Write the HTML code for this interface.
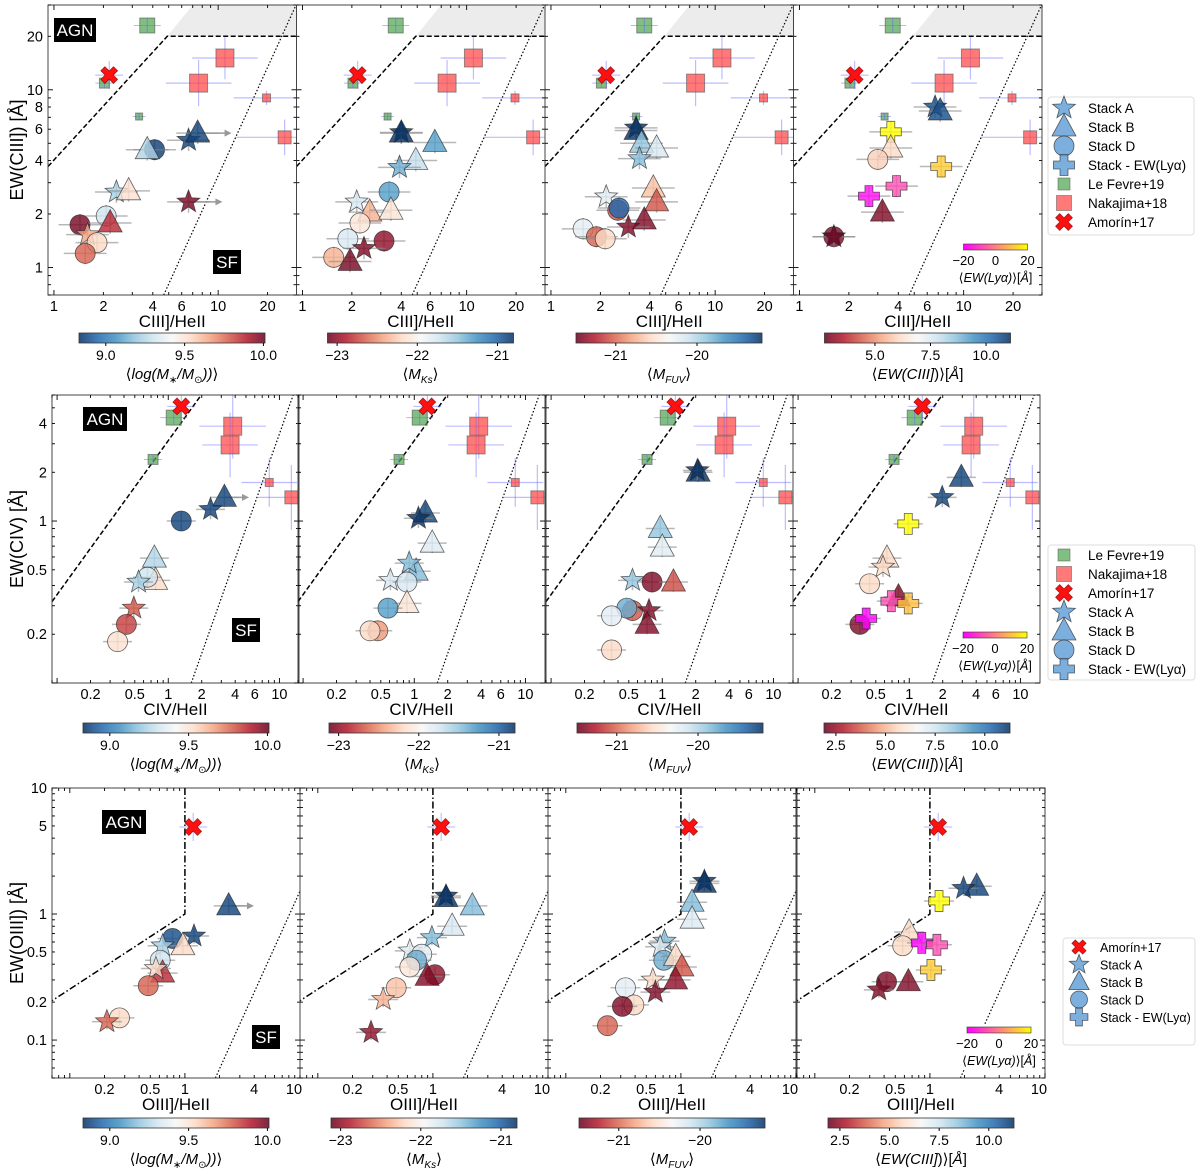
<!DOCTYPE html>
<html><head><meta charset="utf-8">
<style>
html,body{margin:0;padding:0;background:#fff;}
svg{display:block;font-family:"Liberation Sans","DejaVu Sans",sans-serif;}
</style></head>
<body>
<svg id="fig" width="1200" height="1171" viewBox="0 0 1200 1171" xmlns="http://www.w3.org/2000/svg"></svg>
<script>
// ---------- DATA ----------
const r1LfX=[3.7,2.03,3.3], r1LfY=[23,10.9,7.07], r1LfS=[7.5,5,3.5];
const r1NkX=[11.0,7.6,19.7,25.4], r1NkY=[15.1,10.9,9.0,5.4], r1NkS=[9,9,4,6.5];
const r1NkXe=[0.2,0.2,0.2,0.3], r1NkYe=[0.12,0.13,0.04,0.1];
const r1AmX=[2.17], r1AmY=[12.1];
const r2LfX=[1.12,0.73], r2LfY=[4.35,2.4], r2LfS=[7.5,5];
const r2NkX=[3.8,3.6,8.1,12.8], r2NkY=[3.85,2.95,1.73,1.40], r2NkS=[9,9,4,6.5];
const r2NkXe=[0.3,0.25,0.25,0.3], r2NkYe=[0.2,0.2,0.15,0.2];
const r2AmX=[1.31], r2AmY=[5.1];
const r3AmX=[1.18], r3AmY=[4.9];

const r1p1X=[4.1,3.7,6.6,7.5,2.4,2.85,6.6,2.08,1.44,2.2,1.6,1.83,1.55];
const r1p1Y=[4.6,4.6,5.2,5.7,2.66,2.7,2.34,1.95,1.74,1.78,1.53,1.38,1.2];
const r1p1S=['D','B','A','B','A','B','A','D','D','B','A','D','D'];
const r1p1C=[0.02,0.35,0.03,0.03,0.33,0.58,0.98,0.4,0.98,0.88,0.7,0.6,0.8];
const r1p1Ar=[3,6];
const r1p2X=[4.0,4.0,6.4,4.9,3.9,3.37,2.14,2.57,3.46,2.24,1.89,3.14,2.37,1.55,1.95];
const r1p2Y=[5.75,5.7,5.05,4.0,3.66,2.66,2.34,2.05,2.1,1.78,1.45,1.41,1.28,1.14,1.08];
const r1p2S=['A','B','B','B','A','D','A','B','B','D','D','D','A','D','B'];
const r1p2C=[0.0,0.0,0.22,0.38,0.25,0.22,0.42,0.68,0.57,0.56,0.42,0.95,0.97,0.68,0.98];
const r1p3X=[3.3,3.3,3.56,4.4,3.46,2.17,4.2,4.4,2.55,2.6,3.7,2.96,1.57,1.89,2.14];
const r1p3Y=[6.1,5.9,5.0,4.7,4.1,2.5,2.8,2.34,2.1,2.16,1.85,1.69,1.65,1.49,1.45];
const r1p3S=['A','B','B','B','A','A','B','B','D','D','B','A','D','D','D'];
const r1p3C=[0.0,0.0,0.3,0.42,0.28,0.44,0.65,0.82,0.82,0.1,0.97,0.97,0.45,0.8,0.6];
const r1p4X=[6.7,7.2,3.6,3.6,3.0,7.3,3.9,2.65,3.2,1.62,1.62];
const r1p4Y=[8.0,7.6,5.8,4.7,4.06,3.7,2.87,2.52,2.05,1.49,1.49];
const r1p4S=['A','B','P','B','D','P','P','P','B','D','A'];
const r1p4C=[0.05,0.05,20,0.6,0.62,12,-8,-18,0.97,0.97,1.0];

const r2p1X=[3.2,2.4,1.31,0.75,0.77,0.65,0.54,0.49,0.42,0.35];
const r2p1Y=[1.40,1.18,1.0,0.59,0.43,0.45,0.42,0.29,0.23,0.18];
const r2p1S=['B','A','D','B','B','D','A','A','D','D'];
const r2p1C=[0.03,0.03,0.03,0.35,0.6,0.4,0.33,0.82,0.85,0.58];
const r2p1Ar=[0];
const r2p2X=[1.26,1.09,1.45,1.04,0.9,0.61,0.86,0.86,0.58,0.47,0.40];
const r2p2Y=[1.12,1.04,0.73,0.49,0.55,0.43,0.42,0.31,0.29,0.21,0.21];
const r2p2S=['B','A','B','B','A','A','D','B','D','D','D'];
const r2p2C=[0.03,0.0,0.43,0.28,0.28,0.42,0.42,0.57,0.22,0.72,0.6];
const r2p3X=[2.1,2.07,0.96,1.0,0.54,0.81,1.26,0.54,0.48,0.76,0.73,0.35,0.35];
const r2p3Y=[2.0,2.05,0.9,0.69,0.43,0.42,0.42,0.28,0.29,0.28,0.23,0.26,0.16];
const r2p3S=['B','A','B','B','A','D','B','D','D','A','B','D','D'];
const r2p3C=[0.0,0.0,0.3,0.44,0.3,0.97,0.83,0.82,0.25,0.97,0.97,0.45,0.6];
const r2p4X=[2.94,1.98,0.98,0.63,0.58,0.44,0.80,0.69,0.98,0.36,0.41];
const r2p4Y=[1.86,1.40,0.96,0.59,0.52,0.41,0.34,0.32,0.31,0.23,0.25];
const r2p4S=['B','A','P','B','A','D','B','P','P','D','P'];
const r2p4C=[0.03,0.03,20,0.6,0.6,0.6,0.97,-8,10,0.97,-20];

const r3p1X=[2.4,1.2,0.78,0.96,0.64,0.61,0.64,0.56,0.48,0.27,0.21];
const r3p1Y=[1.16,0.67,0.64,0.56,0.56,0.43,0.34,0.37,0.27,0.15,0.14];
const r3p1S=['B','A','D','B','A','D','B','A','D','D','A'];
const r3p1C=[0.03,0.03,0.05,0.6,0.33,0.4,0.88,0.6,0.8,0.6,0.8];
const r3p1Ar=[0];
const r3p2X=[1.3,1.3,2.2,1.47,0.98,0.63,0.80,0.72,0.63,1.04,0.89,0.48,0.37,0.29];
const r3p2Y=[1.39,1.35,1.16,0.80,0.65,0.51,0.48,0.43,0.38,0.33,0.32,0.26,0.21,0.115];
const r3p2S=['A','B','B','B','A','A','D','D','D','D','B','D','A','A'];
const r3p2C=[0.0,0.0,0.28,0.42,0.28,0.44,0.44,0.25,0.56,0.95,0.97,0.65,0.68,0.95];
const r3p3X=[1.6,1.6,1.25,1.25,0.72,0.66,0.71,0.9,1.02,0.9,0.57,0.60,0.33,0.39,0.31,0.23];
const r3p3Y=[1.82,1.75,1.24,0.91,0.61,0.55,0.43,0.46,0.38,0.30,0.30,0.24,0.26,0.19,0.185,0.13];
const r3p3S=['A','B','B','B','A','A','D','B','B','B','A','A','D','D','D','D'];
const r3p3C=[0.0,0.0,0.28,0.43,0.28,0.44,0.25,0.6,0.82,0.95,0.6,0.97,0.45,0.6,0.97,0.8];
const r3p4X=[2.55,1.96,1.2,0.66,0.58,0.85,1.15,1.02,0.65,0.42,0.36];
const r3p4Y=[1.66,1.6,1.27,0.72,0.56,0.59,0.57,0.36,0.29,0.29,0.25];
const r3p4S=['B','A','P','B','D','P','P','P','B','D','A'];
const r3p4C=[0.03,0.03,20,0.6,0.6,-20,-8,12,0.97,0.97,0.97];

const cbTicksMass=[9.0,9.5,10.0], cbTicksKs=[-23,-22,-21], cbTicksFuv=[-21,-20];
const cbTicksEw1=[5.0,7.5,10.0], cbTicksEw23=[2.5,5.0,7.5,10.0], lyaTicks=[-20,0,20];
const xTicks1=[1,2,4,6,10,20], yTicks1=[1,2,4,6,8,10,20];
const xTicks2=[0.2,0.5,1,2,4,6,10], yTicks2=[0.2,0.5,1,2,4];
const xTicks3=[0.2,0.5,1,4,10], yTicks3=[0.1,0.2,0.5,1,5,10];

// ---------- DRAWING ----------
const NS='http://www.w3.org/2000/svg';
const svg=document.getElementById('fig');
function mk(tag,attrs,parent){const e=document.createElementNS(NS,tag);for(const k in attrs)e.setAttribute(k,attrs[k]);(parent||svg).appendChild(e);return e;}
const L=Math.log10;
const RDBU=[[5,48,97],[33,102,172],[67,147,195],[146,197,222],[209,229,240],[247,247,247],[253,219,199],[244,165,130],[214,96,77],[178,24,43],[103,0,31]];
function rdbu(t){t=Math.max(0,Math.min(1,t));const s=t*10,i=Math.min(9,Math.floor(s)),f=s-i;const a=RDBU[i],b=RDBU[i+1];return 'rgb('+a.map((v,k)=>Math.round(v+(b[k]-v)*f)).join(',')+')';}
function spring(v){const t=Math.max(0,Math.min(1,(v+20)/40));return 'rgb(255,'+Math.round(255*t)+','+Math.round(255*(1-t))+')';}
function fmtTick(v){return String(v);}

const rows=[
 {top:5,bot:295,lefts:[48,296.5,545,793.5],w:248.5,xl:[0.92,30],yl:[0.7,30],xt:xTicks1,yt:yTicks1,xlab:'CIII]/HeII',ylab:'EW(CIII]) [Å]',cbY:333},
 {top:395,bot:683,lefts:[52,298,546,793],w:247,xl:[0.09,15],yl:[0.1,6],xt:xTicks2,yt:yTicks2,xlab:'CIV/HeII',ylab:'EW(CIV) [Å]',cbY:723},
 {top:788,bot:1078,lefts:[52,300,548,797],w:248,xl:[0.07,10],yl:[0.05,10],xt:xTicks3,yt:yTicks3,xlab:'OIII]/HeII',ylab:'EW(OIII]) [Å]',cbY:1118}
];
const stacks=[[ [r1p1X,r1p1Y,r1p1S,r1p1C,r1p1Ar],[r1p2X,r1p2Y,r1p2S,r1p2C,[]],[r1p3X,r1p3Y,r1p3S,r1p3C,[]],[r1p4X,r1p4Y,r1p4S,r1p4C,[]] ],
 [ [r2p1X,r2p1Y,r2p1S,r2p1C,r2p1Ar],[r2p2X,r2p2Y,r2p2S,r2p2C,[]],[r2p3X,r2p3Y,r2p3S,r2p3C,[]],[r2p4X,r2p4Y,r2p4S,r2p4C,[]] ],
 [ [r3p1X,r3p1Y,r3p1S,r3p1C,r3p1Ar],[r3p2X,r3p2Y,r3p2S,r3p2C,[]],[r3p3X,r3p3Y,r3p3S,r3p3C,[]],[r3p4X,r3p4Y,r3p4S,r3p4C,[]] ]];
const refs=[
 {lf:[r1LfX,r1LfY,r1LfS],nk:[r1NkX,r1NkY,r1NkS,r1NkXe,r1NkYe],am:[r1AmX,r1AmY]},
 {lf:[r2LfX,r2LfY,r2LfS],nk:[r2NkX,r2NkY,r2NkS,r2NkXe,r2NkYe],am:[r2AmX,r2AmY]},
 {lf:null,nk:null,am:[r3AmX,r3AmY]}];
const cbs=[
 {range:[8.83,10.01],ticks:cbTicksMass,rev:false},
 {range:[-23.12,-20.8],ticks:cbTicksKs,rev:true},
 {range:[-21.49,-19.2],ticks:cbTicksFuv,rev:true},
 {range:[2.73,11.1],ticks:cbTicksEw1,rev:true}];

const defs=mk('defs',{});
function grad(id,fn,rev){const g=mk('linearGradient',{id:id,x1:'0',x2:'1',y1:'0',y2:'0'},defs);for(let i=0;i<=20;i++){const t=i/20;mk('stop',{offset:t,'stop-color':fn(rev?1-t:t)},g);}}
grad('gBR',rdbu,false);grad('gRB',rdbu,true);grad('gLya',v=>spring(-20+40*v),false);

function starPath(cx,cy,R){let d='';for(let i=0;i<10;i++){const r=i%2?R*0.42:R;const a=-Math.PI/2+i*Math.PI/5;d+=(i?'L':'M')+(cx+r*Math.cos(a)).toFixed(1)+','+(cy+r*Math.sin(a)).toFixed(1);}return d+'Z';}
function plusPath(cx,cy,R){const a=R*0.38;return `M${cx-a},${cy-R}H${cx+a}V${cy-a}H${cx+R}V${cy+a}H${cx+a}V${cy+R}H${cx-a}V${cy+a}H${cx-R}V${cy-a}H${cx-a}Z`;}
function xPath(cx,cy,R){const a=R*0.32;const pts=[];for(let k=0;k<4;k++){const ang=Math.PI/4+k*Math.PI/2;const c=Math.cos(ang),s=Math.sin(ang),c2=Math.cos(ang+Math.PI/2),s2=Math.sin(ang+Math.PI/2);pts.push([cx+R*c-a*c2,cy+R*s-a*s2],[cx+R*c+a*c2,cy+R*s+a*s2],[cx+a*1.41*Math.cos(ang+Math.PI/4),cy+a*1.41*Math.sin(ang+Math.PI/4)]);}return 'M'+pts.map(p=>p[0].toFixed(1)+','+p[1].toFixed(1)).join('L')+'Z';}

function marker(g,shape,cx,cy,fill,scale,name){
 let e;const s=scale||1;
 if(shape==='D'){e=mk('circle',{cx:cx,cy:cy,r:10*s},g);}
 else if(shape==='B'){const h=12*s;e=mk('path',{d:`M${cx},${cy-h*1.1}L${cx+h},${cy+h*0.75}L${cx-h},${cy+h*0.75}Z`},g);}
 else if(shape==='A'){e=mk('path',{d:starPath(cx,cy,12*s)},g);}
 else if(shape==='P'){e=mk('path',{d:plusPath(cx,cy,10.5*s)},g);}
 else if(shape==='X'){e=mk('path',{d:xPath(cx,cy,9*s)},g);}
 e.setAttribute('fill',fill);e.setAttribute('fill-opacity',shape==='X'?1:0.8);
 e.setAttribute('stroke',shape==='X'?'#700':'#222');e.setAttribute('stroke-width',0.8);e.setAttribute('stroke-opacity',0.7);
 
 
 return e;
}
const shapeName={A:'stack-a-marker',B:'stack-b-marker',D:'stack-d-marker',P:'stack-lya-marker'};

rows.forEach((R,ri)=>{
 const lx0=L(R.xl[0]),lx1=L(R.xl[1]),ly0=L(R.yl[0]),ly1=L(R.yl[1]);
 R.lefts.forEach((left,pi)=>{
  const sx=v=>left+R.w*(L(v)-lx0)/(lx1-lx0);
  const sy=v=>R.bot-(R.bot-R.top)*(L(v)-ly0)/(ly1-ly0);
  const g=mk('g',{});
  
  
  const cid='clip'+ri+pi;const cp=mk('clipPath',{id:cid},defs);mk('rect',{x:left,y:R.top,width:R.w,height:R.bot-R.top},cp);
  const pg=mk('g',{'clip-path':'url(#'+cid+')'},g);
  if(ri===0){
   const sh=mk('path',{d:`M${sx(4.9)},${sy(20)}L${sx(7)},${sy(30)}L${sx(30)},${sy(30)}L${sx(30)},${sy(20)}Z`,fill:'#ececec'},pg);
   
   
   const d1=mk('path',{d:`M${sx(0.92)},${sy(3.7)}L${sx(4.9)},${sy(20)}L${sx(30)},${sy(20)}`,fill:'none',stroke:'#000','stroke-width':1.5,'stroke-dasharray':'5,2.5'},pg);
   
   
   const d2=mk('line',{x1:sx(4.66),y1:sy(0.7),x2:sx(24.4*Math.pow(10,(L(30)-L(20))/2.025)),y2:sy(30),stroke:'#000','stroke-width':1.2,'stroke-dasharray':'1.5,2'},pg);
   
   
  } else if(ri===1){
   const d1=mk('line',{x1:sx(0.09),y1:sy(0.318),x2:sx(1.98),y2:sy(6),stroke:'#000','stroke-width':1.5,'stroke-dasharray':'5,2.5'},pg);
   
   
   const d2=mk('line',{x1:sx(1.61),y1:sy(0.1),x2:sx(13.3),y2:sy(6),stroke:'#000','stroke-width':1.2,'stroke-dasharray':'1.5,2'},pg);
   
   
  } else {
   const d1=mk('path',{d:`M${sx(1)},${sy(10)}L${sx(1)},${sy(1)}L${sx(0.07)},${sy(0.205)}`,fill:'none',stroke:'#000','stroke-width':1.5,'stroke-dasharray':'7,2.5,1.5,2.5'},pg);
   
   
   const d2=mk('line',{x1:sx(1.84),y1:sy(0.05),x2:sx(10),y2:sy(1.52),stroke:'#000','stroke-width':1.2,'stroke-dasharray':'1.5,2'},pg);
   
   
  }
  const rf=refs[ri];
  if(rf.lf){const [X,Y,S]=rf.lf;X.forEach((v,i)=>{const cx=sx(v),cy=sy(Y[i]),s=S[i];
    mk('line',{x1:cx-s*1.8,x2:cx+s*1.8,y1:cy,y2:cy,stroke:'#6a6aff','stroke-opacity':0.5},pg);
    const r=mk('rect',{x:cx-s,y:cy-s,width:2*s,height:2*s,fill:'#4ca24c','fill-opacity':0.7,stroke:'#555','stroke-opacity':0.6},pg);
    
    
    mk('line',{x1:cx,x2:cx,y1:cy-s,y2:cy+s,stroke:'#6a6aff','stroke-opacity':0.6},pg);});}
  if(rf.nk){const [X,Y,S,XE,YE]=rf.nk;X.forEach((v,i)=>{const cx=sx(v),cy=sy(Y[i]),s=S[i];
    const x1=sx(v/Math.pow(10,XE[i])),x2=sx(v*Math.pow(10,XE[i])),y1=sy(Y[i]*Math.pow(10,YE[i])),y2=sy(Y[i]/Math.pow(10,YE[i]));
    mk('line',{x1:x1,x2:x2,y1:cy,y2:cy,stroke:'#6a6aff','stroke-opacity':0.45,'stroke-width':1.2},pg);
    mk('line',{x1:cx,x2:cx,y1:y1,y2:y2,stroke:'#6a6aff','stroke-opacity':0.45,'stroke-width':1.2},pg);
    const r=mk('rect',{x:cx-s,y:cy-s,width:2*s,height:2*s,fill:'#ff4040','fill-opacity':0.7,stroke:'#555','stroke-opacity':0.6},pg);
    
    });}
  {const [X,Y]=rf.am;X.forEach((v,i)=>{const cx=sx(v),cy=sy(Y[i]);
    mk('line',{x1:cx-14,x2:cx+14,y1:cy,y2:cy,stroke:'#6a6aff','stroke-opacity':0.5},pg);
    mk('line',{x1:cx,x2:cx,y1:cy-14,y2:cy+14,stroke:'#6a6aff','stroke-opacity':0.5},pg);
    marker(pg,'X',cx,cy,'#ff1010',1,'amorin-point');});}
  const [X,Y,S,C,AR]=stacks[ri][pi];
  X.forEach((v,i)=>{const cx=sx(v),cy=sy(Y[i]);
    mk('line',{x1:sx(v/1.35),x2:sx(v*1.35),y1:cy,y2:cy,stroke:'#888','stroke-opacity':0.6,'stroke-width':1.5},pg);
    mk('line',{x1:cx,x2:cx,y1:sy(Y[i]*1.15),y2:sy(Y[i]/1.15),stroke:'#888','stroke-opacity':0.6,'stroke-width':1.5},pg);
    if(AR.indexOf(i)>=0){const ax=sx(v*1.5);mk('line',{x1:cx,x2:ax,y1:cy,y2:cy,stroke:'#999','stroke-width':1.5},pg);mk('path',{d:`M${ax+5},${cy}L${ax-2},${cy-3.5}L${ax-2},${cy+3.5}Z`,fill:'#999'},pg);}
    const fill=S[i]==='P'?spring(C[i]):rdbu(C[i]);
    marker(pg,S[i],cx,cy,fill,1,shapeName[S[i]]);
  });
  const fr=mk('rect',{x:left,y:R.top,width:R.w,height:R.bot-R.top,fill:'none',stroke:'#444','stroke-width':1},g);
  
  
  const tk=mk('g',{stroke:'#000','stroke-width':0.9},g);
  for(let d=Math.floor(lx0);d<=Math.ceil(lx1);d++)for(let m=1;m<10;m++){const v=m*Math.pow(10,d);if(v<R.xl[0]||v>R.xl[1])continue;const x=sx(v),len=m===1?5:3;
    mk('line',{x1:x,x2:x,y1:R.bot,y2:R.bot-len},tk);mk('line',{x1:x,x2:x,y1:R.top,y2:R.top+len},tk);}
  for(let d=Math.floor(ly0);d<=Math.ceil(ly1);d++)for(let m=1;m<10;m++){const v=m*Math.pow(10,d);if(v<R.yl[0]||v>R.yl[1])continue;const y=sy(v),len=m===1?5:3;
    mk('line',{x1:left,x2:left+len,y1:y,y2:y},tk);mk('line',{x1:left+R.w,x2:left+R.w-len,y1:y,y2:y},tk);}
  R.xt.forEach(v=>{let xx=sx(v);if(xx>left+R.w-6)xx=left+R.w-6;const t=mk('text',{x:xx,y:R.bot+16,'font-size':14.5,'text-anchor':'middle',fill:'#000'},g);t.textContent=fmtTick(v);
    
    });
  if(pi===0)R.yt.forEach(v=>{const t=mk('text',{x:left-5,y:sy(v)+5,'font-size':14.5,'text-anchor':'end',fill:'#000'},g);t.textContent=fmtTick(v);
    
    });
  const xl=mk('text',{x:left+R.w/2,y:R.bot+32,'font-size':17,'text-anchor':'middle',fill:'#000'},g);xl.textContent=R.xlab;
  
  
  if(pi===0){const yl=mk('text',{x:0,y:0,'font-size':18,'text-anchor':'middle',fill:'#000',transform:`translate(23,${(R.top+R.bot)/2}) rotate(-90)`},g);yl.textContent=R.ylab;
    
    }
  const cb=cbs[pi];const range=(pi===3&&ri>0)?[1.9,11.27]:cb.range;const ticks=(pi===3&&ri>0)?cbTicksEw23:cb.ticks;
  const cbx=left+31,cbw=186,cby=R.cbY;
  const cr=mk('rect',{x:cbx,y:cby,width:cbw,height:10,fill:cb.rev?'url(#gRB)':'url(#gBR)','fill-opacity':0.85,stroke:'#333','stroke-width':0.8},g);
  
  
  ticks.forEach(v=>{const x=cbx+cbw*(v-range[0])/(range[1]-range[0]);mk('line',{x1:x,x2:x,y1:cby+10,y2:cby+13,stroke:'#000'},g);
    const t=mk('text',{x:x,y:cby+27,'font-size':14,'text-anchor':'middle',fill:'#000'},g);t.textContent=(Number.isInteger(v)&&pi!==0&&pi!==3)?String(v).replace('-','−'):v.toFixed(1);
    
    });
  const cl=mk('text',{x:cbx+cbw/2,y:cby+46,'font-size':15,'text-anchor':'middle',fill:'#000'},g);
  
  
  if(pi===0)cl.innerHTML='⟨<tspan font-style="italic">log(M</tspan><tspan font-style="italic" font-size="10" dy="4">∗</tspan><tspan font-style="italic" dy="-4">/M</tspan><tspan font-size="10" dy="4">⊙</tspan><tspan font-style="italic" dy="-4">))</tspan>⟩';
  else if(pi===1)cl.innerHTML='⟨<tspan font-style="italic">M</tspan><tspan font-style="italic" font-size="10" dy="4">Ks</tspan><tspan dy="-4">⟩</tspan>';
  else if(pi===2)cl.innerHTML='⟨<tspan font-style="italic">M</tspan><tspan font-style="italic" font-size="10" dy="4">FUV</tspan><tspan dy="-4">⟩</tspan>';
  else cl.innerHTML='⟨<tspan font-style="italic">EW(CIII]</tspan>)⟩[<tspan font-style="italic">Å</tspan>]';
  if(pi===0){
   const pos=[[54,18,42,'AGN',255,213,250],[83,407,44,'AGN',262,232,618],[102,810,44,'AGN',282,252,1025]][ri];
   const a=mk('rect',{x:pos[0],y:pos[1],width:pos[2],height:24,fill:'#000'},g);
   
   
   const at=mk('text',{x:pos[0]+pos[2]/2,y:pos[1]+18,'font-size':17,'text-anchor':'middle',fill:'#fff'},g);at.textContent='AGN';
   
   
   const sb=mk('rect',{x:pos[5],y:pos[6],width:28,height:24,fill:'#000'},g);
   
   
   const st=mk('text',{x:pos[5]+14,y:pos[6]+18,'font-size':17,'text-anchor':'middle',fill:'#fff'},g);st.textContent='SF';
   
   
  }
  if(pi===3){
   const lx=left+170,ly=R.bot-51;
   mk('rect',{x:lx-4,y:ly-3,width:72,height:46,fill:'#fff'},g);
   const lr=mk('rect',{x:lx,y:ly,width:64,height:6,fill:'url(#gLya)',stroke:'#333','stroke-width':0.6},g);
   
   
   lyaTicks.forEach(v=>{const x=lx+64*(v+20)/40;const t=mk('text',{x:x,y:ly+21,'font-size':13,'text-anchor':'middle',fill:'#000'},g);t.textContent=String(v).replace('-','−');
     
     });
   const lt=mk('text',{x:lx+32,y:ly+38,'font-size':12.5,'text-anchor':'middle',fill:'#000'},g);
   lt.innerHTML='⟨<tspan font-style="italic">EW(Lyα)</tspan>⟩[<tspan font-style="italic">Å</tspan>]';
   
   
  }
 });
});

const legends=[
 {box:[1048,97,146,138],items:['A','B','D','P','LF','NK','X'],y0:108,dy:19,mx:1064,tx:1088,fs:13.5},
 {box:[1048,545,147,135],items:['LF','NK','X','A','B','D','P'],y0:555,dy:19,mx:1064,tx:1088,fs:13.5},
 {box:[1063,938,132,107],items:['X','A','B','D','P'],y0:947,dy:17.5,mx:1079,tx:1100,fs:12.5}];
const legText={A:'Stack A',B:'Stack B',D:'Stack D',P:'Stack - EW(Lyα)',LF:'Le Fevre+19',NK:'Nakajima+18',X:'Amorín+17'};
legends.forEach((lg,li)=>{
 const g=mk('g',{});
 
 
 mk('rect',{x:lg.box[0],y:lg.box[1],width:lg.box[2],height:lg.box[3],rx:3,fill:'#fff',stroke:'#ddd'},g);
 lg.items.forEach((it,i)=>{const y=lg.y0+i*lg.dy;const sc=li===2?0.85:1;
  if(it==='LF'){const r=mk('rect',{x:lg.mx-6,y:y-6,width:12,height:12,fill:'#4ca24c','fill-opacity':0.7,stroke:'#555','stroke-opacity':0.5},g);
    
    }
  else if(it==='NK'){const r=mk('rect',{x:lg.mx-7.5,y:y-7.5,width:15,height:15,fill:'#ff4040','fill-opacity':0.7,stroke:'#555','stroke-opacity':0.5},g);
    
    }
  else marker(g,it,lg.mx,y,it==='X'?'#ff1010':'#5b9bd5',sc,'legend-marker');
  const t=mk('text',{x:lg.tx,y:y+5,'font-size':lg.fs,fill:'#000'},g);t.textContent=legText[it];
  
  
 });
});
</script>
</body></html>
